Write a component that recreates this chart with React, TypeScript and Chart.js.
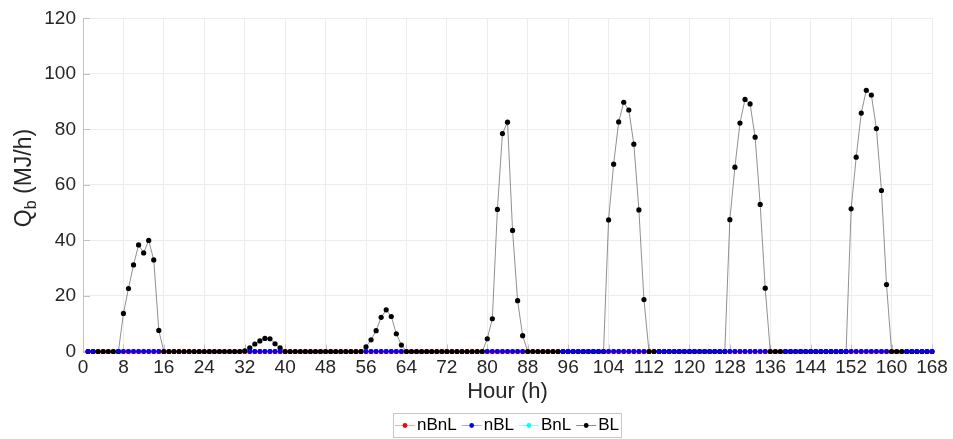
import React, { useEffect, useRef } from "react";
import { Chart, registerables } from "chart.js";

Chart.register(...registerables);

const _ = null;

// x categories: hour of the week
const HOURS = [
  1, 2, 3, 4, 5, 6, 7, 8, 9, 10, 11, 12, 13, 14, 15, 16, 17, 18, 19, 20, 21, 22, 23, 24,
  25, 26, 27, 28, 29, 30, 31, 32, 33, 34, 35, 36, 37, 38, 39, 40, 41, 42, 43, 44, 45, 46, 47, 48,
  49, 50, 51, 52, 53, 54, 55, 56, 57, 58, 59, 60, 61, 62, 63, 64, 65, 66, 67, 68, 69, 70, 71, 72,
  73, 74, 75, 76, 77, 78, 79, 80, 81, 82, 83, 84, 85, 86, 87, 88, 89, 90, 91, 92, 93, 94, 95, 96,
  97, 98, 99, 100, 101, 102, 103, 104, 105, 106, 107, 108, 109, 110, 111, 112, 113, 114, 115, 116, 117, 118, 119, 120,
  121, 122, 123, 124, 125, 126, 127, 128, 129, 130, 131, 132, 133, 134, 135, 136, 137, 138, 139, 140, 141, 142, 143, 144,
  145, 146, 147, 148, 149, 150, 151, 152, 153, 154, 155, 156, 157, 158, 159, 160, 161, 162, 163, 164, 165, 166, 167, 168,
];

const X_TICKS = [0, 8, 16, 24, 32, 40, 48, 56, 64, 72, 80, 88, 96, 104, 112, 120, 128, 136, 144, 152, 160, 168];
const Y_TICKS = [0, 20, 40, 60, 80, 100, 120];

// Q_b (MJ/h) series
const nBnL = [
  0, 0, 0, 0, 0, 0, 0, 0, 0, 0, 0, 0, 0, 0, 0, 0, 0, 0, 0, 0, 0, 0, 0, 0,
  0, 0, 0, 0, 0, 0, 0, 0, 0, 0, 0, 0, 0, 0, 0, 0, 0, 0, 0, 0, 0, 0, 0, 0,
  0, 0, 0, 0, 0, 0, 0, 0, 0, 0, 0, 0, 0, 0, 0, 0, 0, 0, 0, 0, 0, 0, 0, 0,
  0, 0, 0, 0, 0, 0, 0, 0, 0, 0, 0, 0, 0, 0, 0, 0, 0, 0, 0, 0, 0, 0, 0, 0,
  0, 0, 0, 0, 0, 0, 0, 0, 0, 0, 0, 0, 0, 0, 0, 0, 0, 0, 0, 0, 0, 0, 0, 0,
  0, 0, 0, 0, 0, 0, 0, 0, 0, 0, 0, 0, 0, 0, 0, 0, 0, 0, 0, 0, 0, 0, 0, 0,
  0, 0, 0, 0, 0, 0, 0, 0, 0, 0, 0, 0, 0, 0, 0, 0, 0, 0, 0, 0, 0, 0, 0, 0,
];

const nBL = [
  0, 0, _, _, _, _, 0, 0, 0, 0, 0, 0, 0, 0, 0, _, _, _, _, _, _, _, _, _,
  _, _, _, _, _, _, _, _, 0, 0, 0, 0, 0, 0, 0, _, _, _, _, _, _, _, _, _,
  _, _, _, _, _, _, _, 0, 0, 0, 0, 0, 0, 0, 0, _, _, _, _, _, _, _, _, _,
  _, _, _, _, _, _, _, 0, 0, 0, 0, 0, 0, 0, 0, _, _, _, _, _, _, _, 0, 0,
  0, 0, 0, 0, 0, 0, 0, 0, 0, 0, 0, 0, 0, 0, 0, _, _, 0, 0, 0, 0, 0, 0, 0,
  0, 0, 0, 0, 0, 0, 0, 0, 0, 0, 0, 0, 0, 0, 0, _, _, _, 0, 0, 0, 0, 0, 0,
  0, 0, 0, 0, 0, 0, 0, 0, 0, 0, 0, 0, 0, 0, 0, _, _, _, 0, 0, 0, 0, 0, 0,
];

const BnL = [
  0, 0, 0, 0, 0, 0, 0, 0, 0, 0, 0, 0, 0, 0, 0, 0, 0, 0, 0, 0, 0, 0, 0, 0,
  0, 0, 0, 0, 0, 0, 0, 0, 0, 0, 0, 0, 0, 0, 0, 0, 0, 0, 0, 0, 0, 0, 0, 0,
  0, 0, 0, 0, 0, 0, 0, 0, 0, 0, 0, 0, 0, 0, 0, 0, 0, 0, 0, 0, 0, 0, 0, 0,
  0, 0, 0, 0, 0, 0, 0, 0, 0, 0, 0, 0, 0, 0, 0, 0, 0, 0, 0, 0, 0, 0, 0, 0,
  0, 0, 0, 0, 0, 0, 0, 0, 0, 0, 0, 0, 0, 0, 0, 0, 0, 0, 0, 0, 0, 0, 0, 0,
  0, 0, 0, 0, 0, 0, 0, 0, 0, 0, 0, 0, 0, 0, 0, 0, 0, 0, 0, 0, 0, 0, 0, 0,
  0, 0, 0, 0, 0, 0, 0, 0, 0, 0, 0, 0, 0, 0, 0, 0, 0, 0, 0, 0, 0, 0, 0, 0,
];

const BL = [
  0, 0, 0, 0, 0, 0, 0, 13.7, 22.7, 31.2, 38.4, 35.5, 40.0, 33.0, 7.6, 0, 0, 0, 0, 0, 0, 0, 0, 0,
  0, 0, 0, 0, 0, 0, 0, 0.2, 1.3, 2.7, 3.8, 4.7, 4.6, 2.8, 1.3, 0, 0, 0, 0, 0, 0, 0, 0, 0,
  0, 0, 0, 0, 0, 0, 0, 1.7, 4.2, 7.5, 12.3, 15.0, 12.6, 6.4, 2.3, 0, 0, 0, 0, 0, 0, 0, 0, 0,
  0, 0, 0, 0, 0, 0, 0, 4.6, 11.8, 51.2, 78.5, 82.6, 43.6, 18.3, 5.7, 0, 0, 0, 0, 0, 0, 0, 0, 0,
  0, 0, 0, 0, 0, 0, 0, 47.4, 67.5, 82.7, 89.8, 87.0, 74.7, 51.0, 18.7, 0, 0, 0, 0, 0, 0, 0, 0, 0,
  0, 0, 0, 0, 0, 0, 0, 47.5, 66.4, 82.3, 90.8, 89.2, 77.2, 53.0, 22.8, 0, 0, 0, 0, 0, 0, 0, 0, 0,
  0, 0, 0, 0, 0, 0, 0, 51.4, 70.0, 85.9, 94.1, 92.4, 80.3, 58.0, 24.1, 0, 0, 0, 0, 0, 0, 0, 0, 0,
];

const SERIES_NAMES = ["nBnL", "nBL", "BnL", "BL"];

const FONT = '"Liberation Sans", Arial, Helvetica, sans-serif';
const TEXT = "#262626";
const AXIS = "#c2c2c2";
const GRID = "#ededed";

const toPts = (vals: (number | null)[]) => HOURS.map((h, i) => ({ x: h, y: vals[i] }));

const LEGEND_ITEMS = [
  { name: SERIES_NAMES[0], line: "rgba(255,0,0,0.35)", dot: "#ff0000" },
  { name: SERIES_NAMES[1], line: "rgba(0,0,255,0.35)", dot: "#0000ff" },
  { name: SERIES_NAMES[2], line: "rgba(0,255,255,0.45)", dot: "#00ffff" },
  { name: SERIES_NAMES[3], line: "rgba(0,0,0,0.45)", dot: "#000000" },
];

const decorPlugin = {
  id: "decor",
  beforeDatasetsDraw(chart: any) {
    const { ctx, chartArea: a, scales } = chart;
    const xs = scales.x;
    const ys = scales.y;
    ctx.save();
    ctx.strokeStyle = AXIS;
    ctx.lineWidth = 1;
    ctx.beginPath();
    Y_TICKS.forEach((v) => {
      const y = Math.round(ys.getPixelForValue(v)) + 0.5;
      ctx.moveTo(a.left, y);
      ctx.lineTo(a.left + 7, y);
    });
    X_TICKS.forEach((v) => {
      const x = Math.round(xs.getPixelForValue(v)) + 0.5;
      ctx.moveTo(x, a.bottom);
      ctx.lineTo(x, a.bottom - 7);
    });
    ctx.stroke();
    ctx.restore();
  },
  afterDraw(chart: any) {
    const { ctx, chartArea: a } = chart;
    ctx.save();
    // Y axis title with subscript: Q_b (MJ/h)
    const big = `23px ${FONT}`;
    const small = `16px ${FONT}`;
    ctx.font = big;
    const wQ = ctx.measureText("Q").width;
    const wRest = ctx.measureText(" (MJ/h)").width;
    ctx.font = small;
    const wB = ctx.measureText("b").width;
    const total = wQ + wB + wRest;
    ctx.translate(31, 178);
    ctx.rotate(-Math.PI / 2);
    ctx.fillStyle = TEXT;
    ctx.textBaseline = "alphabetic";
    ctx.textAlign = "left";
    let x0 = -total / 2;
    ctx.font = big;
    ctx.fillText("Q", x0, 0);
    x0 += wQ;
    ctx.font = small;
    ctx.fillText("b", x0, 5);
    x0 += wB;
    ctx.font = big;
    ctx.fillText(" (MJ/h)", x0, 0);
    ctx.restore();

    // X axis title
    ctx.save();
    ctx.font = `22px ${FONT}`;
    ctx.fillStyle = TEXT;
    ctx.textAlign = "center";
    ctx.textBaseline = "middle";
    ctx.fillText("Hour (h)", (a.left + a.right) / 2, 392);
    ctx.restore();

    // Legend
    ctx.save();
    ctx.font = `17px ${FONT}`;
    const lineLen = 20;
    const gapText = 2;
    const gapItem = 5;
    const pad = 2;
    const widths = LEGEND_ITEMS.map((it) => ctx.measureText(it.name).width);
    let w = pad * 2 + gapItem * (LEGEND_ITEMS.length - 1);
    widths.forEach((tw) => (w += lineLen + gapText + tw));
    const cx = (a.left + a.right) / 2 - 1;
    const left = Math.round(cx - w / 2);
    const top = 413;
    const h = 24;
    ctx.fillStyle = "#ffffff";
    ctx.fillRect(left, top, w, h);
    ctx.strokeStyle = "#c8c8c8";
    ctx.lineWidth = 1;
    ctx.strokeRect(left + 0.5, top + 0.5, Math.round(w), h);
    let x = left + pad;
    const cy = top + h / 2 + 0.5;
    LEGEND_ITEMS.forEach((it, i) => {
      ctx.strokeStyle = it.line;
      ctx.lineWidth = 1;
      ctx.beginPath();
      ctx.moveTo(x, cy);
      ctx.lineTo(x + lineLen, cy);
      ctx.stroke();
      ctx.fillStyle = it.dot;
      ctx.beginPath();
      ctx.arc(x + lineLen / 2, cy, 2.4, 0, Math.PI * 2);
      ctx.fill();
      ctx.fillStyle = "#000000";
      ctx.textAlign = "left";
      ctx.textBaseline = "middle";
      ctx.fillText(it.name, x + lineLen + gapText, cy);
      x += lineLen + gapText + widths[i] + gapItem;
    });
    ctx.restore();
  },
};

export default function App() {
  const ref = useRef<HTMLCanvasElement | null>(null);

  useEffect(() => {
    if (!ref.current) return;
    const chart = new Chart(ref.current, {
      type: "line",
      data: {
        datasets: [
          {
            label: SERIES_NAMES[0],
            data: toPts(nBnL),
            borderColor: "#ff0000",
            backgroundColor: "#ff0000",
            borderWidth: 1.2,
            pointRadius: 2.6,
            pointBorderWidth: 0,
            order: 2,
            clip: false,
          },
          {
            label: SERIES_NAMES[1],
            data: toPts(nBL),
            borderColor: "rgba(0,0,255,0.6)",
            backgroundColor: "#0000ff",
            borderWidth: 0.6,
            pointRadius: 2.4,
            pointBorderWidth: 0,
            spanGaps: false,
            order: 0,
            clip: false,
          },
          {
            label: SERIES_NAMES[2],
            data: toPts(BnL),
            borderColor: "#00ffff",
            backgroundColor: "#00ffff",
            borderWidth: 0.6,
            pointRadius: 2.2,
            pointBorderWidth: 0,
            order: 3,
            clip: false,
          },
          {
            label: SERIES_NAMES[3],
            data: toPts(BL),
            borderColor: "rgba(0,0,0,0.55)",
            backgroundColor: "#000000",
            borderWidth: 0.8,
            pointRadius: 2.6,
            pointBorderWidth: 0,
            order: 1,
            clip: false,
          },
        ],
      },
      options: {
        animation: false,
        responsive: false,
        maintainAspectRatio: false,
        layout: { padding: { top: 13.5, right: 21, left: 0, bottom: 0 } },
        plugins: {
          legend: { display: false },
          tooltip: { enabled: false },
          title: { display: false },
        },
        elements: { line: { tension: 0 } },
        scales: {
          x: {
            type: "linear",
            min: 0,
            max: 168,
            afterBuildTicks: (s: any) => {
              s.ticks = X_TICKS.map((v) => ({ value: v }));
            },
            ticks: {
              autoSkip: false,
              maxRotation: 0,
              color: TEXT,
              font: { family: FONT, size: 19 },
              padding: 5,
            },
            grid: { color: GRID, drawTicks: false },
            border: { color: AXIS },
            afterFit: (s: any) => {
              s.height = 87.5;
            },
          },
          y: {
            min: 0,
            max: 120,
            afterBuildTicks: (s: any) => {
              s.ticks = Y_TICKS.map((v) => ({ value: v }));
            },
            ticks: {
              color: TEXT,
              font: { family: FONT, size: 19 },
              padding: 7,
            },
            grid: { color: GRID, drawTicks: false },
            border: { color: AXIS },
            afterFit: (s: any) => {
              s.width = 83;
            },
          },
        },
      },
      plugins: [decorPlugin],
    } as any);
    return () => chart.destroy();
  }, []);

  return (
    <div style={{ position: "fixed", left: 0, top: 0, width: 953, height: 439, background: "#fff" }}>
      <canvas ref={ref} width={953} height={439} style={{ display: "block", width: 953, height: 439 }} />
    </div>
  );
}
